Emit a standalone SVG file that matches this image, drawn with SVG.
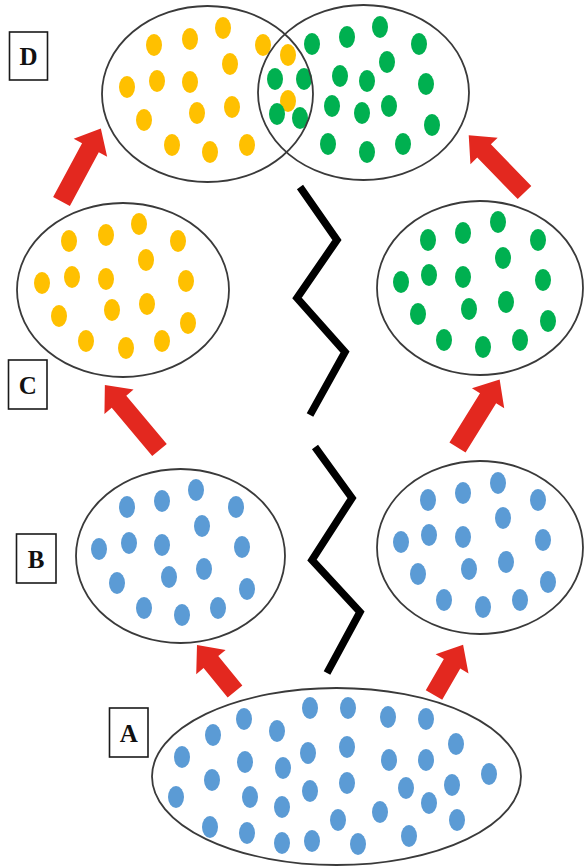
<svg xmlns="http://www.w3.org/2000/svg" xmlns:xlink="http://www.w3.org/1999/xlink" width="584" height="868" viewBox="0 0 584 868">
  <style>
    .pop { fill: none; stroke: #3a3a3a; stroke-width: 1.8; }
    .y { fill: #FFC000; }
    .g { fill: #00B050; }
    .b { fill: #5B9BD5; }
    .box { fill: #ffffff; stroke: #1a1a1a; stroke-width: 1.6; }
    .lbl { font-family: "Liberation Serif", "Times New Roman", serif; font-weight: bold; font-size: 25px; fill: #111111; text-anchor: middle; }
    .arrow { fill: #E3281F; }
    .zig { fill: none; stroke: #000000; stroke-width: 7.5; stroke-linejoin: miter; stroke-linecap: butt; }
  </style>
  <defs>
    <ellipse id="dot" cx="0" cy="0" rx="8" ry="11"/>
  </defs>
  <rect width="584" height="868" fill="#ffffff"/>

  <!-- Stage D: two overlapping populations -->
  <g id="stage-d">
    <g class="y">
      <use xlink:href="#dot" x="154" y="45"/>
      <use xlink:href="#dot" x="190" y="39"/>
      <use xlink:href="#dot" x="223" y="28"/>
      <use xlink:href="#dot" x="263" y="45"/>
      <use xlink:href="#dot" x="288" y="55"/>
      <use xlink:href="#dot" x="230" y="64"/>
      <use xlink:href="#dot" x="127" y="87"/>
      <use xlink:href="#dot" x="157" y="81"/>
      <use xlink:href="#dot" x="190" y="82"/>
      <use xlink:href="#dot" x="288" y="101"/>
      <use xlink:href="#dot" x="232" y="107"/>
      <use xlink:href="#dot" x="144" y="120"/>
      <use xlink:href="#dot" x="197" y="113"/>
      <use xlink:href="#dot" x="172" y="145"/>
      <use xlink:href="#dot" x="210" y="152"/>
      <use xlink:href="#dot" x="247" y="145"/>
    </g>
    <g class="g">
      <use xlink:href="#dot" x="312" y="44"/>
      <use xlink:href="#dot" x="347" y="37"/>
      <use xlink:href="#dot" x="380" y="27"/>
      <use xlink:href="#dot" x="419" y="44"/>
      <use xlink:href="#dot" x="275" y="79"/>
      <use xlink:href="#dot" x="304" y="79"/>
      <use xlink:href="#dot" x="340" y="76"/>
      <use xlink:href="#dot" x="367" y="81"/>
      <use xlink:href="#dot" x="387" y="62"/>
      <use xlink:href="#dot" x="426" y="84"/>
      <use xlink:href="#dot" x="277" y="114"/>
      <use xlink:href="#dot" x="300" y="118"/>
      <use xlink:href="#dot" x="332" y="106"/>
      <use xlink:href="#dot" x="362" y="113"/>
      <use xlink:href="#dot" x="389" y="106"/>
      <use xlink:href="#dot" x="432" y="125"/>
      <use xlink:href="#dot" x="328" y="144"/>
      <use xlink:href="#dot" x="367" y="152"/>
      <use xlink:href="#dot" x="403" y="144"/>
    </g>
    <ellipse class="pop" cx="207.5" cy="94" rx="105.5" ry="88"/>
    <ellipse class="pop" cx="363.5" cy="92.5" rx="105.5" ry="87.5"/>
  </g>

  <!-- Stage C: left (yellow) and right (green) populations -->
  <g id="stage-c-left">
    <g class="y">
      <use xlink:href="#dot" x="69" y="241"/>
      <use xlink:href="#dot" x="106" y="235"/>
      <use xlink:href="#dot" x="139" y="224"/>
      <use xlink:href="#dot" x="178" y="241"/>
      <use xlink:href="#dot" x="146" y="260"/>
      <use xlink:href="#dot" x="42" y="283"/>
      <use xlink:href="#dot" x="72" y="277"/>
      <use xlink:href="#dot" x="106" y="279"/>
      <use xlink:href="#dot" x="186" y="281"/>
      <use xlink:href="#dot" x="59" y="316"/>
      <use xlink:href="#dot" x="112" y="310"/>
      <use xlink:href="#dot" x="147" y="304"/>
      <use xlink:href="#dot" x="188" y="323"/>
      <use xlink:href="#dot" x="86" y="341"/>
      <use xlink:href="#dot" x="126" y="348"/>
      <use xlink:href="#dot" x="162" y="341"/>
    </g>
    <ellipse class="pop" cx="123" cy="290" rx="106" ry="87"/>
  </g>
  <g id="stage-c-right">
    <g class="g">
      <use xlink:href="#dot" x="428" y="240"/>
      <use xlink:href="#dot" x="463" y="233"/>
      <use xlink:href="#dot" x="498" y="222"/>
      <use xlink:href="#dot" x="538" y="240"/>
      <use xlink:href="#dot" x="503" y="258"/>
      <use xlink:href="#dot" x="401" y="282"/>
      <use xlink:href="#dot" x="429" y="275"/>
      <use xlink:href="#dot" x="463" y="277"/>
      <use xlink:href="#dot" x="543" y="280"/>
      <use xlink:href="#dot" x="418" y="314"/>
      <use xlink:href="#dot" x="469" y="309"/>
      <use xlink:href="#dot" x="506" y="302"/>
      <use xlink:href="#dot" x="548" y="321"/>
      <use xlink:href="#dot" x="444" y="340"/>
      <use xlink:href="#dot" x="483" y="347"/>
      <use xlink:href="#dot" x="520" y="340"/>
    </g>
    <ellipse class="pop" cx="480" cy="288" rx="103" ry="87"/>
  </g>

  <!-- Stage B: two blue populations -->
  <g id="stage-b-left">
    <g class="b">
      <use xlink:href="#dot" x="127" y="507"/>
      <use xlink:href="#dot" x="162" y="501"/>
      <use xlink:href="#dot" x="196" y="490"/>
      <use xlink:href="#dot" x="236" y="507"/>
      <use xlink:href="#dot" x="202" y="526"/>
      <use xlink:href="#dot" x="99" y="549"/>
      <use xlink:href="#dot" x="129" y="543"/>
      <use xlink:href="#dot" x="162" y="545"/>
      <use xlink:href="#dot" x="242" y="547"/>
      <use xlink:href="#dot" x="117" y="583"/>
      <use xlink:href="#dot" x="169" y="577"/>
      <use xlink:href="#dot" x="204" y="569"/>
      <use xlink:href="#dot" x="247" y="589"/>
      <use xlink:href="#dot" x="144" y="608"/>
      <use xlink:href="#dot" x="182" y="615"/>
      <use xlink:href="#dot" x="218" y="608"/>
    </g>
    <ellipse class="pop" cx="180.5" cy="556" rx="104.5" ry="87"/>
  </g>
  <g id="stage-b-right">
    <g class="b">
      <use xlink:href="#dot" x="428" y="500"/>
      <use xlink:href="#dot" x="463" y="493"/>
      <use xlink:href="#dot" x="498" y="483"/>
      <use xlink:href="#dot" x="538" y="500"/>
      <use xlink:href="#dot" x="503" y="518"/>
      <use xlink:href="#dot" x="401" y="542"/>
      <use xlink:href="#dot" x="429" y="535"/>
      <use xlink:href="#dot" x="463" y="537"/>
      <use xlink:href="#dot" x="543" y="540"/>
      <use xlink:href="#dot" x="418" y="574"/>
      <use xlink:href="#dot" x="469" y="569"/>
      <use xlink:href="#dot" x="506" y="562"/>
      <use xlink:href="#dot" x="548" y="582"/>
      <use xlink:href="#dot" x="444" y="600"/>
      <use xlink:href="#dot" x="483" y="607"/>
      <use xlink:href="#dot" x="520" y="600"/>
    </g>
    <ellipse class="pop" cx="480" cy="547.5" rx="103" ry="86.5"/>
  </g>

  <!-- Stage A: ancestral population -->
  <g id="stage-a">
    <g class="b">
      <use xlink:href="#dot" x="310" y="708"/>
      <use xlink:href="#dot" x="348" y="708"/>
      <use xlink:href="#dot" x="388" y="717"/>
      <use xlink:href="#dot" x="426" y="719"/>
      <use xlink:href="#dot" x="244" y="719"/>
      <use xlink:href="#dot" x="213" y="735"/>
      <use xlink:href="#dot" x="277" y="731"/>
      <use xlink:href="#dot" x="182" y="757"/>
      <use xlink:href="#dot" x="308" y="753"/>
      <use xlink:href="#dot" x="347" y="747"/>
      <use xlink:href="#dot" x="245" y="762"/>
      <use xlink:href="#dot" x="283" y="768"/>
      <use xlink:href="#dot" x="389" y="760"/>
      <use xlink:href="#dot" x="426" y="760"/>
      <use xlink:href="#dot" x="456" y="744"/>
      <use xlink:href="#dot" x="489" y="774"/>
      <use xlink:href="#dot" x="212" y="780"/>
      <use xlink:href="#dot" x="176" y="797"/>
      <use xlink:href="#dot" x="250" y="797"/>
      <use xlink:href="#dot" x="310" y="791"/>
      <use xlink:href="#dot" x="347" y="783"/>
      <use xlink:href="#dot" x="406" y="788"/>
      <use xlink:href="#dot" x="452" y="785"/>
      <use xlink:href="#dot" x="282" y="807"/>
      <use xlink:href="#dot" x="380" y="812"/>
      <use xlink:href="#dot" x="429" y="803"/>
      <use xlink:href="#dot" x="210" y="827"/>
      <use xlink:href="#dot" x="247" y="833"/>
      <use xlink:href="#dot" x="338" y="820"/>
      <use xlink:href="#dot" x="457" y="820"/>
      <use xlink:href="#dot" x="282" y="843"/>
      <use xlink:href="#dot" x="312" y="841"/>
      <use xlink:href="#dot" x="358" y="844"/>
      <use xlink:href="#dot" x="409" y="836"/>
    </g>
    <ellipse class="pop" cx="336.5" cy="776.5" rx="184.5" ry="88.5"/>
  </g>

  <!-- Stage labels -->
  <g id="label-d">
    <rect class="box" x="9.5" y="32" width="38" height="48"/>
    <text class="lbl" x="28.5" y="65">D</text>
  </g>
  <g id="label-c">
    <rect class="box" x="8.5" y="360" width="38.5" height="49"/>
    <text class="lbl" x="27.7" y="393.5">C</text>
  </g>
  <g id="label-b">
    <rect class="box" x="16.5" y="534" width="39.5" height="49"/>
    <text class="lbl" x="36.2" y="567.5">B</text>
  </g>
  <g id="label-a">
    <rect class="box" x="109.5" y="708" width="38.5" height="49"/>
    <text class="lbl" x="128.7" y="741.5">A</text>
  </g>

  <!-- Connectors: descent arrows and isolation barriers -->
  <g id="connectors">
    <polygon class="arrow" points="0,-9.5 61,-9.5 61,-19 83,0 61,19 61,9.5 0,9.5" transform="translate(61.5,201.5) rotate(-61.7)"/>
    <polygon class="arrow" points="0,-9.5 58,-9.5 58,-19 80,0 58,19 58,9.5 0,9.5" transform="translate(524.5,192.5) rotate(-134.2)"/>
    <polygon class="arrow" points="0,-9.5 63,-9.5 63,-19 85,0 63,19 63,9.5 0,9.5" transform="translate(159.5,450) rotate(-130)"/>
    <polygon class="arrow" points="0,-9.5 58,-9.5 58,-19 80,0 58,19 58,9.5 0,9.5" transform="translate(457.5,447.5) rotate(-58.2)"/>
    <polygon class="arrow" points="0,-9.5 38,-9.5 38,-19 60,0 38,19 38,9.5 0,9.5" transform="translate(235,691.5) rotate(-129.3)"/>
    <polygon class="arrow" points="0,-9.5 36,-9.5 36,-19 58,0 36,19 36,9.5 0,9.5" transform="translate(434,695) rotate(-59.9)"/>
    <polyline class="zig" points="300,187 337,240 297,298 345,352 310,415"/>
    <polyline class="zig" points="315,447 352,498 312,560 360,612 327,673"/>
  </g>
</svg>
